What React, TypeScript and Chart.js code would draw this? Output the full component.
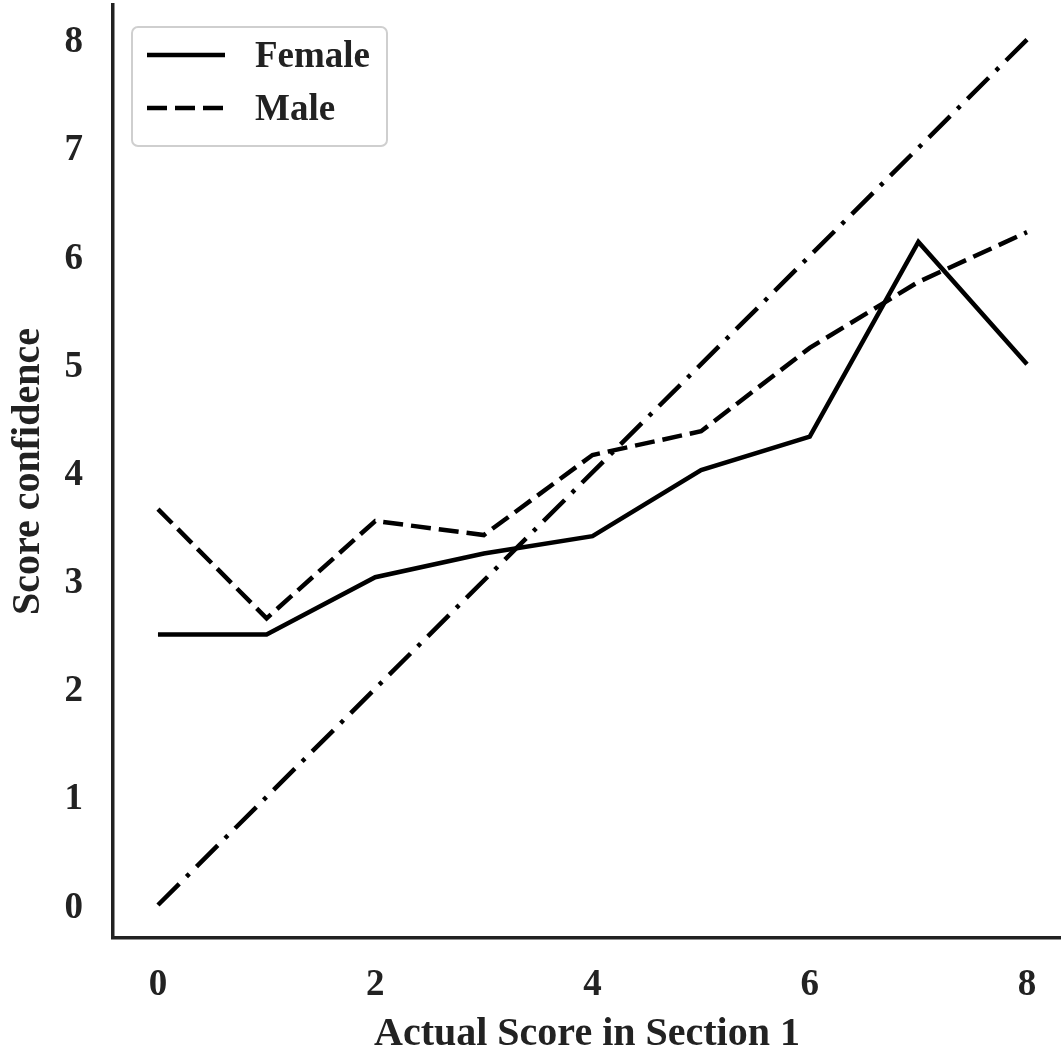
import React, { useEffect, useRef } from "react";
import { Chart, registerables } from "chart.js";

Chart.register(...registerables);

// ---- data ----
const scoreValues = [0, 1, 2, 3, 4, 5, 6, 7, 8];
const femaleConfidence = [2.5, 2.5, 3.03, 3.25, 3.41, 4.02, 4.33, 6.13, 5.0];
const maleConfidence = [3.66, 2.65, 3.55, 3.42, 4.16, 4.38, 5.15, 5.76, 6.22];
const diagonalX = [0, 8];
const diagonalY = [0, 8];
const xTickValues = [0, 2, 4, 6, 8];
const yTickValues = [0, 1, 2, 3, 4, 5, 6, 7, 8];
const seriesLabels = ["Female", "Male"];
const xAxisTitle = "Actual Score in Section 1";
const yAxisTitle = "Score confidence";

const FONT = "'Liberation Serif', 'Times New Roman', serif";
const TEXT = "#222222";

const legendPlugin = {
  id: "boxLegend",
  afterDraw(chart: any) {
    const ctx = chart.ctx;
    const area = chart.chartArea;
    const x0 = area.left + 19;
    const y0 = area.top + 22;
    const w = 255;
    const h = 119;
    ctx.save();
    ctx.beginPath();
    (ctx as any).roundRect(x0, y0, w, h, 6);
    ctx.fillStyle = "rgba(255,255,255,0.85)";
    ctx.fill();
    ctx.lineWidth = 2;
    ctx.strokeStyle = "#cfcfcf";
    ctx.stroke();
    const items = chart.data.datasets.filter((d: any) => d.label);
    items.forEach((ds: any, i: number) => {
      const cy = y0 + 28 + i * 53;
      ctx.beginPath();
      ctx.setLineDash(ds.borderDash || []);
      ctx.lineWidth = ds.borderWidth;
      ctx.strokeStyle = ds.borderColor;
      ctx.lineCap = "butt";
      ctx.moveTo(x0 + 15, cy);
      ctx.lineTo(x0 + 93, cy);
      ctx.stroke();
      ctx.setLineDash([]);
      ctx.fillStyle = TEXT;
      ctx.font = `bold 37px ${FONT}`;
      ctx.textBaseline = "middle";
      ctx.textAlign = "left";
      ctx.fillText(ds.label, x0 + 123, cy + 2);
    });
    ctx.restore();
  },
};

export default function App() {
  const ref = useRef<HTMLCanvasElement>(null);

  useEffect(() => {
    if (!ref.current) return;
    const chart = new Chart(ref.current, {
      type: "line",
      data: {
        datasets: [
          {
            label: seriesLabels[0],
            data: scoreValues.map((x, i) => ({ x, y: femaleConfidence[i] })),
            borderColor: "#000000",
            borderWidth: 4.5,
            pointRadius: 0,
            borderCapStyle: "butt",
            borderJoinStyle: "miter",
            tension: 0,
          },
          {
            label: seriesLabels[1],
            data: scoreValues.map((x, i) => ({ x, y: maleConfidence[i] })),
            borderColor: "#000000",
            borderWidth: 4.5,
            borderDash: [20, 8],
            pointRadius: 0,
            borderCapStyle: "butt",
            borderJoinStyle: "miter",
            tension: 0,
          },
          {
            label: "",
            data: diagonalX.map((x, i) => ({ x, y: diagonalY[i] })),
            borderColor: "#000000",
            borderWidth: 4.5,
            borderDash: [30, 10.2, 4, 10.2],
            pointRadius: 0,
            borderCapStyle: "butt",
            tension: 0,
          },
        ],
      },
      options: {
        animation: false,
        responsive: false,
        layout: { padding: { top: 5, right: 0, left: 0, bottom: 0 } },
        plugins: {
          legend: { display: false },
          tooltip: { enabled: false },
        },
        scales: {
          x: {
            type: "linear",
            min: -0.414,
            max: 8.313,
            grid: { display: false, drawTicks: false },
            border: { display: true, color: "#222222", width: 3.5 },
            ticks: {
              padding: 25,
              color: TEXT,
              font: { family: FONT, size: 37, weight: "bold" },
            },
            title: {
              display: true,
              text: xAxisTitle,
              color: TEXT,
              font: { family: FONT, size: 40, weight: "bold" },
              padding: { top: 0, bottom: -2 },
            },
            afterBuildTicks: (scale: any) => {
              scale.ticks = xTickValues.map((v) => ({ value: v }));
            },
            afterFit: (scale: any) => {
              scale.height = 119;
              scale.paddingLeft = 0;
              scale.paddingRight = 0;
            },
          },
          y: {
            type: "linear",
            min: -0.305,
            max: 8.32,
            grid: { display: false, drawTicks: false },
            border: { display: true, color: "#222222", width: 3.5 },
            ticks: {
              padding: 30,
              labelOffset: 3,
              color: TEXT,
              font: { family: FONT, size: 37, weight: "bold" },
            },
            title: {
              display: true,
              text: yAxisTitle,
              color: TEXT,
              font: { family: FONT, size: 40, weight: "bold" },
              padding: { top: 5, bottom: 0 },
            },
            afterBuildTicks: (scale: any) => {
              scale.ticks = yTickValues.map((v) => ({ value: v }));
            },
            afterFit: (scale: any) => {
              scale.width = 113;
              scale.paddingTop = 0;
              scale.paddingBottom = 0;
            },
          },
        },
      },
      plugins: [legendPlugin],
    } as any);
    return () => chart.destroy();
  }, []);

  return (
    <div
      style={{
        position: "fixed",
        left: 0,
        top: 0,
        width: 1061,
        height: 1057,
        background: "#ffffff",
      }}
    >
      <canvas ref={ref} width={1061} height={1057} style={{ display: "block" }} />
    </div>
  );
}
